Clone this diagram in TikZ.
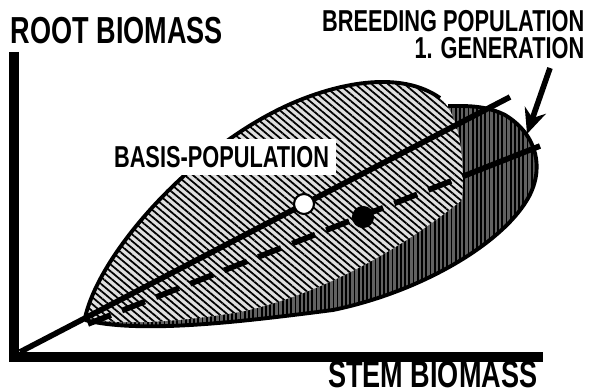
\documentclass[tikz,border=0pt]{standalone}
\usepackage{fontspec}
\newfontfamily\lblfont[FakeStretch=0.72]{Liberation Sans}
\usetikzlibrary{arrows.meta,calc,patterns.meta}
\tikzset{>=Stealth,
  axis/.style={line width=2.6pt},
  rim/.style={line width=1.1pt},
  basisleaf/.style={preaction={fill=gray!25},pattern={Lines[angle=-40,distance=1.5pt,line width=.5pt]}},
  genleaf/.style={preaction={fill=black!62},pattern={Lines[angle=90,distance=1.2pt,line width=.5pt]}},
  trend/.style={line width=1.6pt},
  mean/.style={circle,draw,line width=.6pt,minimum size=.2cm,inner sep=0pt},
  axislbl/.style={inner sep=0pt,font=\lblfont\bfseries\fontsize{10.7}{12}\selectfont},
  poplbl/.style={inner sep=0pt,font=\lblfont\bfseries\fontsize{8.6}{7.7}\selectfont},
  pointer/.style={line width=1.6pt,-{Stealth[length=.25cm,width=.22cm]}}}

\begin{document}
\begin{tikzpicture}[x=.01cm,y=-.01cm]
\useasboundingbox (0,0) rectangle (597,392);
% axes
\coordinate (O) at (14,357);\coordinate (ytop) at (14,52);\coordinate (xend) at (543,357);
\draw[axis] (ytop)--(O)--(xend);
\node[axislbl,anchor=west] (root) at (10,30.5) {ROOT BIOMASS};
\node[axislbl,anchor=east] (stem) at (538,374.5) {STEM BIOMASS};
% breeding population, 1. generation (behind)
\path[genleaf] (85,320) .. controls (140,334) and (240,322) .. (333,310) .. controls (420,292) and (500,245) .. (527,200)
  .. controls (545,170) and (538,135) .. (505,115) .. controls (485,105) and (465,106) .. (448,106) .. controls (300,150) .. (85,320);
\draw[rim] (85,320) .. controls (140,334) and (240,322) .. (333,310) .. controls (420,292) and (500,245) .. (527,200)
  .. controls (545,170) and (538,135) .. (505,115) .. controls (485,105) and (465,106) .. (448,106);
% basis population
\path[basisleaf] (85,318) .. controls (100,250) and (200,140) .. (300,100) .. controls (340,84) and (400,70) .. (440,98)
  .. controls (460,115) and (465,160) .. (462,200) .. controls (400,250) and (320,295) .. (240,312) .. controls (180,322) and (120,326) .. (85,318);
\draw[rim] (85,318) .. controls (100,250) and (200,140) .. (300,100) .. controls (340,84) and (400,70) .. (440,98);
% trend lines
\coordinate (b0) at (20,352);\coordinate (b1) at (510,97);
\coordinate (g0) at (88,324);\coordinate (g1) at (540,146);\coordinate (gm) at ($(g0)!.86!(g1)$);
\draw[trend] (b0)--(b1);
\draw[trend,dash pattern=on 7pt off 3.4pt] (g0)--(gm);\draw[trend] (gm)--(g1);
\node[mean,fill=white] (m0) at (304,204) {};
\node[mean,fill=black] (m1) at (363,217) {};
% labels
\node[poplbl,fill=white,inner sep=2pt] (basis) at (221.5,157) {BASIS-POPULATION};
\node[poplbl,anchor=north east,align=right] (gen) at (585,10) {BREEDING POPULATION\\1. GENERATION};
\coordinate (tail) at (550,68);\coordinate (tip) at (527,134);
\draw[pointer] (tail)--(tip);
\end{tikzpicture}
\end{document}
